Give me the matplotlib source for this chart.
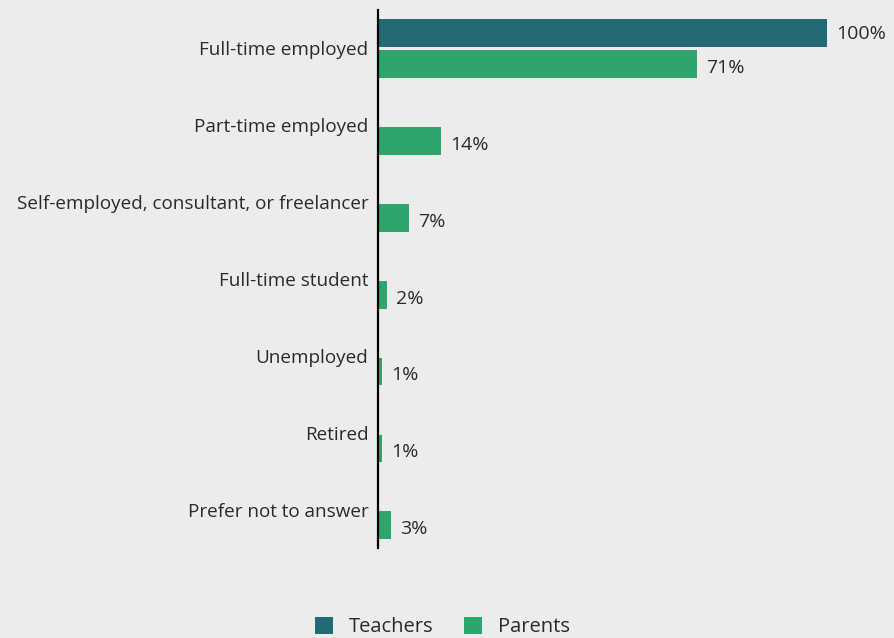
import matplotlib
matplotlib.use("Agg")
import matplotlib.pyplot as plt
import numpy as np

categories = ["Full-time employed", "Part-time employed",
              "Self-employed, consultant, or freelancer", "Full-time student",
              "Unemployed", "Retired", "Prefer not to answer"]
teachers = [100, 0, 0, 0, 0, 0, 0]
parents = [71, 14, 7, 2, 1, 1, 3]

plt.rcParams['font.family'] = ['Open Sans', 'DejaVu Sans']
bg = "#ececec"
c_teach = "#226b74"
c_par = "#2ea56b"
txt = "#2a2a2a"

fig = plt.figure(figsize=(8.94, 6.38), dpi=100, facecolor=bg)
ax = fig.add_axes([378/894, 1-548/638, (827-378)/894, (548-10)/638])
ax.set_facecolor(bg)

y = np.arange(len(categories))
h = 0.36
off = 0.205
ax.barh(y - off, teachers, height=h, color=c_teach, label="Teachers")
ax.barh(y + off, parents, height=h, color=c_par, label="Parents")

for i, v in enumerate(teachers):
    if v > 0:
        ax.text(v + 2, y[i] - off + 0.02, f"{v}%", va="center", ha="left", fontsize=14, color=txt)
for i, v in enumerate(parents):
    if v > 0:
        ax.text(v + 2, y[i] + off + 0.05, f"{v}%", va="center", ha="left", fontsize=14, color=txt)

ax.set_xlim(0, 100)
ax.set_ylim(6.5, -0.5)
ax.set_yticks(y)
ax.set_yticklabels(categories, fontsize=13.6, color=txt)
ax.tick_params(axis='y', length=0, pad=7)
ax.set_xticks([])
for s in ["top", "right", "bottom"]:
    ax.spines[s].set_visible(False)
ax.spines["left"].set_linewidth(1.6)
ax.spines["left"].set_color("black")

leg = fig.legend(loc="upper center", bbox_to_anchor=(0.495, 1-599/638), ncol=2,
                 frameon=False, fontsize=14.5, handlelength=0.9, handleheight=0.9,
                 columnspacing=1.5, handletextpad=0.8)
for t in leg.get_texts():
    t.set_color(txt)

fig.savefig("out.png", dpi=100, facecolor=bg)
